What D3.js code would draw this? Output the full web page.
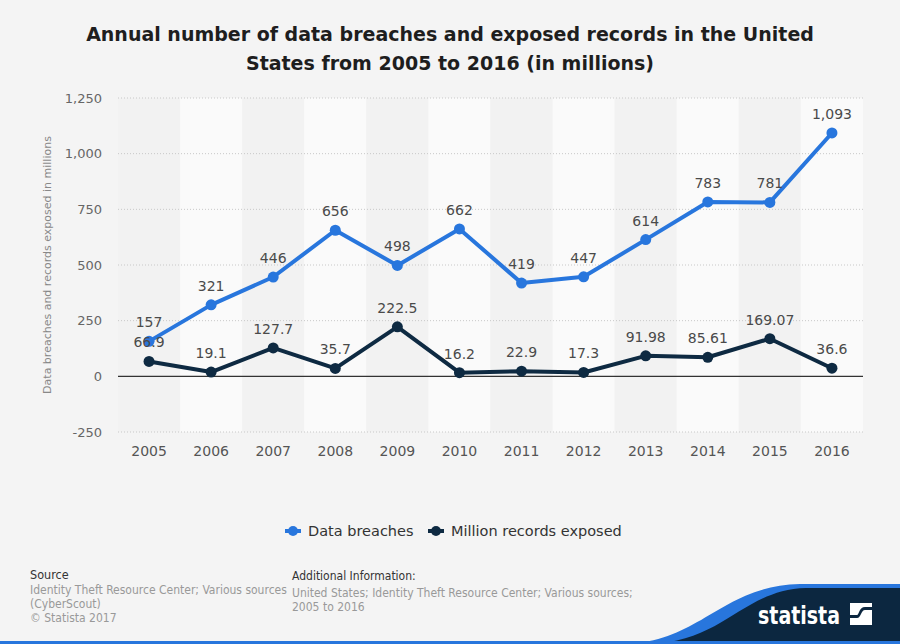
<!DOCTYPE html>
<html>
<head>
<meta charset="utf-8">
<title>Data breaches in the United States</title>
<script src="https://cdn.jsdelivr.net/npm/d3@7"></script>
<style>
  html, body { margin: 0; padding: 0; background: #f4f4f4; }
  svg { display: block; font-family: "DejaVu Sans", sans-serif; }
</style>
</head>
<body>
<svg id="chart" width="900" height="644"></svg>
<script>
// data
var years = ["2005", "2006", "2007", "2008", "2009", "2010", "2011", "2012", "2013", "2014", "2015", "2016"];
var breaches = [157, 321, 446, 656, 498, 662, 419, 447, 614, 783, 781, 1093];
var records = [66.9, 19.1, 127.7, 35.7, 222.5, 16.2, 22.9, 17.3, 91.98, 85.61, 169.07, 36.6];
var yTicks = [-250, 0, 250, 500, 750, 1000, 1250];

var series = [
  { name: "Data breaches", color: "#2876dd", values: breaches },
  { name: "Million records exposed", color: "#0e2a42", values: records }
];

var svg = d3.select("#chart");
var W = 900, H = 644;
var m = { left: 118, right: 863, top: 98, bottom: 432 };

svg.append("rect").attr("width", W).attr("height", H).attr("fill", "#f4f4f4");

// title
var title = svg.append("text")
  .attr("text-anchor", "middle")
  .attr("font-weight", "bold")
  .attr("font-size", 19)
  .attr("fill", "#1e1e1e");
title.append("tspan").attr("x", 450).attr("y", 41).text("Annual number of data breaches and exposed records in the United");
title.append("tspan").attr("x", 450).attr("y", 70).text("States from 2005 to 2016 (in millions)");

var x = d3.scaleBand().domain(years).range([m.left, m.right]).padding(0);
var y = d3.scaleLinear().domain([-250, 1250]).range([m.bottom, m.top]);

// alternating column backgrounds
svg.append("g").selectAll("rect")
  .data(years)
  .join("rect")
  .attr("x", function(d) { return x(d); })
  .attr("y", m.top)
  .attr("width", x.bandwidth())
  .attr("height", m.bottom - m.top)
  .attr("fill", function(d, i) { return i % 2 ? "#fafafa" : "#f2f2f2"; });

// gridlines
svg.append("g").selectAll("line")
  .data(yTicks.filter(function(t) { return t !== 0; }))
  .join("line")
  .attr("x1", m.left).attr("x2", m.right)
  .attr("y1", function(d) { return y(d); })
  .attr("y2", function(d) { return y(d); })
  .attr("stroke", "#c8c8c8")
  .attr("stroke-width", 1)
  .attr("stroke-dasharray", "1,2");

svg.append("line")
  .attr("x1", m.left).attr("x2", m.right)
  .attr("y1", y(0)).attr("y2", y(0))
  .attr("stroke", "#333").attr("stroke-width", 1.2);

// y axis
var comma = d3.format(",");
var yAxis = svg.append("g")
  .attr("transform", "translate(" + (m.left - 14) + ",0)")
  .call(d3.axisLeft(y).tickValues(yTicks).tickSize(0).tickPadding(2)
    .tickFormat(function(d) { return comma(d).replace("\u2212", "-"); }));
yAxis.select(".domain").remove();
yAxis.selectAll("text").attr("font-size", 13).attr("fill", "#666").attr("font-family", "DejaVu Sans, sans-serif");

// x axis
var xAxis = svg.append("g")
  .attr("transform", "translate(0," + (m.bottom + 12) + ")")
  .call(d3.axisBottom(x).tickSize(0).tickPadding(2));
xAxis.select(".domain").remove();
xAxis.selectAll("text").attr("font-size", 14).attr("fill", "#555").attr("font-family", "DejaVu Sans, sans-serif");

// y axis title
svg.append("text")
  .attr("transform", "translate(51," + ((m.top + m.bottom) / 2) + ") rotate(-90)")
  .attr("text-anchor", "middle")
  .attr("font-size", 11)
  .attr("fill", "#888")
  .text("Data breaches and records exposed in millions");

// lines
var line = d3.line()
  .x(function(d, i) { return x(years[i]) + x.bandwidth() / 2; })
  .y(function(d) { return y(d); });

series.forEach(function(s) {
  svg.append("path")
    .datum(s.values)
    .attr("d", line)
    .attr("fill", "none")
    .attr("stroke", s.color)
    .attr("stroke-width", 4)
    .attr("stroke-linejoin", "round");
  svg.append("g").selectAll("circle")
    .data(s.values)
    .join("circle")
    .attr("cx", function(d, i) { return x(years[i]) + x.bandwidth() / 2; })
    .attr("cy", function(d) { return y(d); })
    .attr("r", 5.5)
    .attr("fill", s.color);
});

// value labels
series.forEach(function(s) {
  svg.append("g").selectAll("text")
    .data(s.values)
    .join("text")
    .attr("x", function(d, i) { return x(years[i]) + x.bandwidth() / 2; })
    .attr("y", function(d) { return y(d) - 14; })
    .attr("text-anchor", "middle")
    .attr("font-size", 14)
    .attr("fill", "#4a4a4a")
    .text(function(d) { return comma(d); });
});

// legend
var legend = svg.append("g").attr("transform", "translate(0,531)");
var lx = [293, 436];
series.forEach(function(s, i) {
  var g = legend.append("g").attr("transform", "translate(" + lx[i] + ",0)");
  g.append("line").attr("x1", -8).attr("x2", 8).attr("stroke", s.color).attr("stroke-width", 4);
  g.append("circle").attr("r", 5).attr("fill", s.color);
  g.append("text").attr("x", 15).attr("y", 5).attr("font-size", 14.5).attr("fill", "#333").text(s.name);
});

// footer
var foot = svg.append("g").attr("font-family", "DejaVu Sans Condensed, DejaVu Sans, sans-serif");
foot.append("text").attr("x", 30).attr("y", 579).attr("font-size", 12.5).attr("fill", "#333").text("Source");
["Identity Theft Resource Center; Various sources", "(CyberScout)", "\u00a9 Statista 2017"].forEach(function(t, i) {
  foot.append("text").attr("x", 30).attr("y", 594 + i * 14).attr("font-size", 12).attr("fill", "#999").text(t);
});
foot.append("text").attr("x", 292).attr("y", 580).attr("font-size", 12).attr("fill", "#333").text("Additional Information:");
["United States; Identity Theft Resource Center; Various sources;", "2005 to 2016"].forEach(function(t, i) {
  foot.append("text").attr("x", 292).attr("y", 597 + i * 14).attr("font-size", 12).attr("fill", "#999").text(t);
});

// statista badge
svg.append("path")
  .attr("d", "M620,644 C700,644 720,586 800,584 L900,584 L900,644 Z")
  .attr("fill", "#2876dd");
svg.append("path")
  .attr("d", "M648,644 C725,642 742,590 806,588 L900,588 L900,644 Z")
  .attr("fill", "#0c2740");
svg.append("rect").attr("x", 0).attr("y", 641).attr("width", W).attr("height", 3).attr("fill", "#2876dd");
svg.append("text")
  .attr("x", 758).attr("y", 624)
  .attr("font-family", "DejaVu Sans Condensed, DejaVu Sans, sans-serif")
  .attr("font-weight", "bold")
  .attr("font-size", 24)
  .attr("textLength", 82)
  .attr("lengthAdjust", "spacingAndGlyphs")
  .attr("fill", "#fff")
  .text("statista");
var logo = svg.append("g").attr("transform", "translate(850,603)");
logo.append("rect").attr("width", 22).attr("height", 22).attr("fill", "#fff");
logo.append("path")
  .attr("d", "M0,15 L7,15 C11,15 11,7 15,7 L22,7 L22,4 L15,4 C9,4 9,12 7,12 L0,12 Z")
  .attr("fill", "#0c2740");
</script>
</body>
</html>
